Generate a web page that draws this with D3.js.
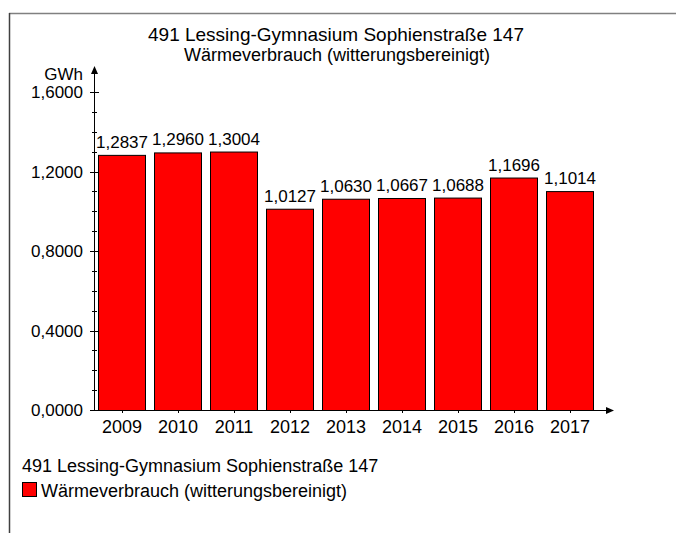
<!DOCTYPE html>
<html><head><meta charset="utf-8">
<script src="https://cdn.jsdelivr.net/npm/d3@7"></script>
<style>
body{margin:0;background:#fff;}
svg{display:block;font-family:"Liberation Sans",Arial,sans-serif;}
</style></head><body>
<svg id="c" width="676" height="533"></svg>
<script>
const title1 = "491 Lessing-Gymnasium Sophienstraße 147";
const title2 = "Wärmeverbrauch (witterungsbereinigt)";
const unit = "GWh";
const years = ["2009","2010","2011","2012","2013","2014","2015","2016","2017"];
const values = [1.2837,1.2960,1.3004,1.0127,1.0630,1.0667,1.0688,1.1696,1.1014];
const yTicks = [0,0.4,0.8,1.2,1.6];
const legendTitle = "491 Lessing-Gymnasium Sophienstraße 147";
const seriesName = "Wärmeverbrauch (witterungsbereinigt)";

const svg = d3.select("#c");
const fmt = v => d3.format(".4f")(v).replace(".", ",");

// frame
svg.append("line").attr("x1",9).attr("y1",13.5).attr("x2",676).attr("y2",13.5).attr("stroke","#808080").attr("stroke-width",1.5);
svg.append("line").attr("x1",9.5).attr("y1",13).attr("x2",9.5).attr("y2",533).attr("stroke","#404040").attr("stroke-width",1.5);

// titles
svg.append("text").attr("x",336).attr("y",41).attr("text-anchor","middle").attr("font-size",19).text(title1);
svg.append("text").attr("x",337).attr("y",61).attr("text-anchor","middle").attr("font-size",18).text(title2);

const x0 = 94, y0 = 410;
const x = d3.scaleBand().domain(years).range([x0, x0 + 56*years.length]).paddingInner(8/56).paddingOuter(4/56);
const y = d3.scaleLinear().domain([0,1.6]).range([y0, 92]);

// bars
svg.append("g").selectAll("rect").data(values).join("rect")
  .attr("x",(d,i)=>x(years[i])+0.5).attr("y",d=>y(d)+0.5)
  .attr("width",x.bandwidth()-1).attr("height",d=>y0-y(d))
  .attr("fill","#ff0000").attr("stroke","#000").attr("stroke-width",1);

// value labels
svg.append("g").selectAll("text").data(values).join("text")
  .attr("x",(d,i)=>x(years[i])+x.bandwidth()/2).attr("y",d=>y(d)-7)
  .attr("text-anchor","middle").attr("font-size",17).text(d=>fmt(d));

// y axis
const ax = svg.append("g");
ax.append("line").attr("x1",x0+0.5).attr("x2",x0+0.5).attr("y1",y0).attr("y2",70).attr("stroke","#000");
ax.append("path").attr("d",`M${x0+0.5},66 L${x0-3},74 L${x0+4},74 Z`).attr("fill","#000");
const minor = d3.range(0,17).map(i=>i/10);
ax.selectAll("line.mn").data(minor).join("line").attr("class","mn")
  .attr("x1",x0-2).attr("x2",x0+3).attr("y1",d=>Math.round(y(d))+0.5).attr("y2",d=>Math.round(y(d))+0.5).attr("stroke","#000");
ax.selectAll("line.mj").data(yTicks).join("line").attr("class","mj")
  .attr("x1",x0-4).attr("x2",x0+5).attr("y1",d=>Math.round(y(d))+0.5).attr("y2",d=>Math.round(y(d))+0.5).attr("stroke","#000");
ax.selectAll("text").data(yTicks).join("text")
  .attr("x",83).attr("y",d=>y(d)+6).attr("text-anchor","end").attr("font-size",17).text(d=>fmt(d));
ax.append("text").attr("x",83).attr("y",80).attr("text-anchor","end").attr("font-size",17).text(unit);

// x axis
const bx = svg.append("g");
bx.append("line").attr("x1",x0).attr("x2",608).attr("y1",y0+0.5).attr("y2",y0+0.5).attr("stroke","#000");
bx.append("path").attr("d",`M614,${y0+0.5} L606,${y0-3} L606,${y0+4} Z`).attr("fill","#000");
bx.selectAll("line.t").data(years).join("line").attr("class","t")
  .attr("x1",d=>Math.round(x(d)+x.bandwidth()/2)+0.5).attr("x2",d=>Math.round(x(d)+x.bandwidth()/2)+0.5)
  .attr("y1",y0).attr("y2",y0+3).attr("stroke","#000");
bx.selectAll("text").data(years).join("text")
  .attr("x",d=>x(d)+x.bandwidth()/2).attr("y",433).attr("text-anchor","middle").attr("font-size",18).text(d=>d);

// legend
svg.append("text").attr("x",22).attr("y",472).attr("font-size",18).text(legendTitle);
svg.append("rect").attr("x",22.5).attr("y",482.5).attr("width",14).attr("height",14).attr("fill","#ff0000").attr("stroke","#000");
svg.append("text").attr("x",41).attr("y",497).attr("font-size",18).text(seriesName);
</script></body></html>
